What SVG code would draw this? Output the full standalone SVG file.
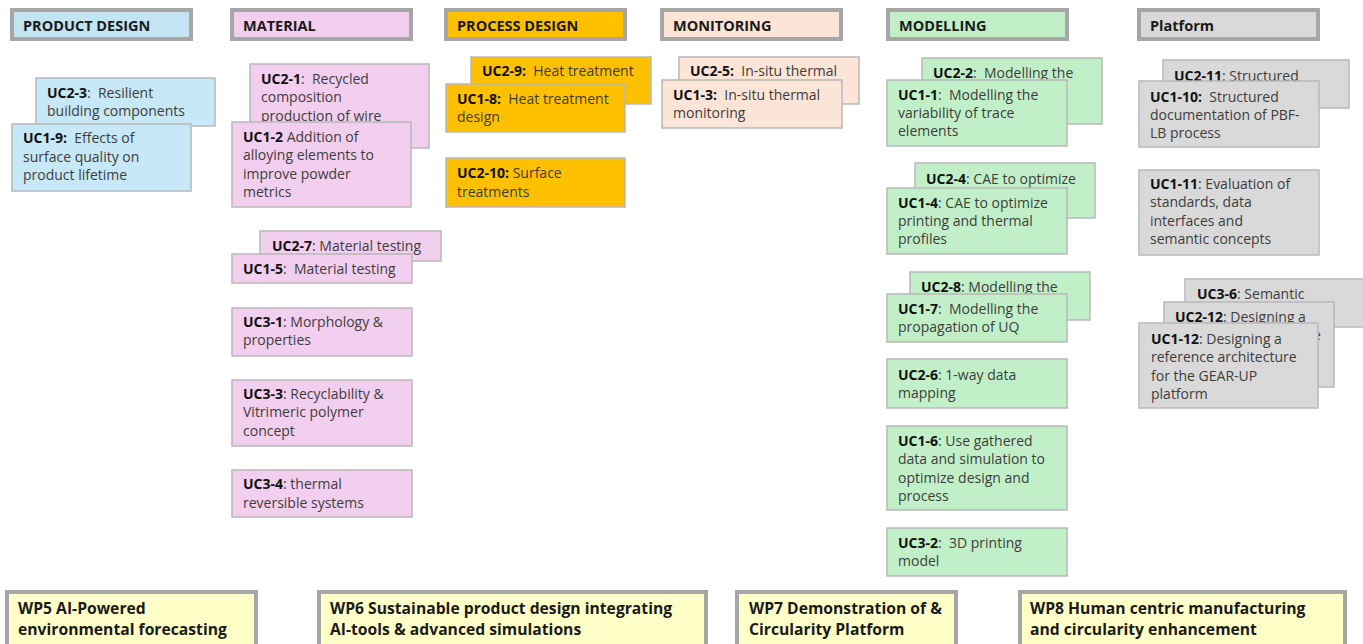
<svg xmlns="http://www.w3.org/2000/svg" width="1363" height="644" viewBox="0 0 1363 644">
<style>
.hdr{stroke:#a6a6a6;stroke-width:4}
.uc{stroke:#b8b8b8;stroke-width:1.5}
.wp{stroke:#a6a6a6;stroke-width:4;fill:#ffffc8}
.blue{fill:#c7e8f6}
.hblue{fill:#c2e4f3}
.pink{fill:#f2cfee}
.orange{fill:#ffc000}
.peach{fill:#fce4d6}
.green{fill:#c1f0c8}
.gray{fill:#d9d9d9}
text{font-family:"Open Sans","Liberation Sans",Arial,sans-serif;white-space:pre}
.ht{font-size:14.5px;font-weight:bold;fill:#1a1a1a}
.t{font-size:14px;fill:#3d3d3d}
.b{font-weight:bold;fill:#111}
.wt{font-size:15.7px;font-weight:bold;fill:#1a1a1a}
</style>
<rect width="1363" height="644" fill="#ffffff"/>

<!-- headers -->
<g id="h-product"><rect class="hdr hblue" x="12" y="10" width="179" height="29"/><text class="ht" x="23" y="31">PRODUCT DESIGN</text></g>
<g id="h-material"><rect class="hdr pink" x="232" y="10" width="179" height="29"/><text class="ht" x="243" y="31">MATERIAL</text></g>
<g id="h-process"><rect class="hdr orange" x="446" y="10" width="179" height="29"/><text class="ht" x="457" y="31">PROCESS DESIGN</text></g>
<g id="h-monitoring"><rect class="hdr peach" x="662" y="10" width="179" height="29"/><text class="ht" x="673" y="31">MONITORING</text></g>
<g id="h-modelling"><rect class="hdr green" x="888" y="10" width="179" height="29"/><text class="ht" x="899" y="31">MODELLING</text></g>
<g id="h-platform"><rect class="hdr gray" x="1139" y="10" width="179" height="29"/><text class="ht" x="1150" y="31">Platform</text></g>

<!-- product design -->
<g id="uc2-3"><rect class="uc blue" x="36" y="78" width="179" height="48"/><text class="t" x="47" y="98"><tspan class="b">UC2-3</tspan>:  Resilient</text><text class="t" x="47" y="116">building components</text></g>
<g id="uc1-9"><rect class="uc blue" x="12" y="124" width="179" height="67"/><text class="t" x="23" y="143"><tspan class="b">UC1-9:</tspan>  Effects of</text><text class="t" x="23" y="161.5">surface quality on</text><text class="t" x="23" y="180">product lifetime</text></g>

<!-- material -->
<g id="uc2-1"><rect class="uc pink" x="250" y="64" width="179" height="84"/><text class="t" x="261" y="84"><tspan class="b">UC2-1</tspan>:  Recycled</text><text class="t" x="261" y="102">composition</text><text class="t" x="261" y="121">production of wire</text></g>
<g id="uc1-2"><rect class="uc pink" x="232" y="122" width="179" height="85"/><text class="t" x="243" y="142"><tspan class="b">UC1-2</tspan> Addition of</text><text class="t" x="243" y="160">alloying elements to</text><text class="t" x="243" y="179">improve powder</text><text class="t" x="243" y="197">metrics</text></g>
<g id="uc2-7"><rect class="uc pink" x="260" y="231" width="181" height="30"/><text class="t" x="272" y="251"><tspan class="b">UC2-7</tspan>: Material testing</text></g>
<g id="uc1-5"><rect class="uc pink" x="232" y="254" width="180" height="29"/><text class="t" x="243" y="274"><tspan class="b">UC1-5</tspan>:  Material testing</text></g>
<g id="uc3-1"><rect class="uc pink" x="232" y="308" width="180" height="48"/><text class="t" x="243" y="327"><tspan class="b">UC3-1</tspan>: Morphology &amp;</text><text class="t" x="243" y="345">properties</text></g>
<g id="uc3-3"><rect class="uc pink" x="232" y="380" width="180" height="66"/><text class="t" x="243" y="399"><tspan class="b">UC3-3</tspan>: Recyclability &amp;</text><text class="t" x="243" y="417">Vitrimeric polymer</text><text class="t" x="243" y="436">concept</text></g>
<g id="uc3-4"><rect class="uc pink" x="232" y="470" width="180" height="47"/><text class="t" x="243" y="489"><tspan class="b">UC3-4</tspan>: thermal</text><text class="t" x="243" y="508">reversible systems</text></g>

<!-- process design -->
<g id="uc2-9"><rect class="uc orange" x="471" y="57" width="180" height="47"/><text class="t" x="482" y="76"><tspan class="b">UC2-9:</tspan>  Heat treatment</text></g>
<g id="uc1-8"><rect class="uc orange" x="446" y="84" width="179" height="48"/><text class="t" x="457" y="104"><tspan class="b">UC1-8:</tspan>  Heat treatment</text><text class="t" x="457" y="122">design</text></g>
<g id="uc2-10"><rect class="uc orange" x="446" y="158" width="179" height="49"/><text class="t" x="457" y="178"><tspan class="b">UC2-10:</tspan> Surface</text><text class="t" x="457" y="197">treatments</text></g>

<!-- monitoring -->
<g id="uc2-5"><rect class="uc peach" x="679" y="57" width="180" height="47"/><text class="t" x="690" y="76"><tspan class="b">UC2-5:</tspan>  In-situ thermal</text></g>
<g id="uc1-3"><rect class="uc peach" x="662" y="80" width="180" height="48"/><text class="t" x="673" y="100"><tspan class="b">UC1-3:</tspan>  In-situ thermal</text><text class="t" x="673" y="118">monitoring</text></g>

<!-- modelling -->
<g id="uc2-2"><rect class="uc green" x="922" y="58" width="180" height="66"/><text class="t" x="933" y="78"><tspan class="b">UC2-2</tspan>:  Modelling the</text></g>
<g id="uc1-1"><rect class="uc green" x="887" y="80" width="180" height="66"/><text class="t" x="898" y="100"><tspan class="b">UC1-1</tspan>:  Modelling the</text><text class="t" x="898" y="117.5">variability of trace</text><text class="t" x="898" y="136">elements</text></g>
<g id="uc2-4"><rect class="uc green" x="915" y="163" width="180" height="55"/><text class="t" x="926" y="184"><tspan class="b">UC2-4</tspan>: CAE to optimize</text></g>
<g id="uc1-4"><rect class="uc green" x="887" y="188" width="180" height="66"/><text class="t" x="898" y="208"><tspan class="b">UC1-4</tspan>: CAE to optimize</text><text class="t" x="898" y="226">printing and thermal</text><text class="t" x="898" y="244">profiles</text></g>
<g id="uc2-8"><rect class="uc green" x="910" y="272" width="180" height="48"/><text class="t" x="921" y="292"><tspan class="b">UC2-8</tspan>: Modelling the</text></g>
<g id="uc1-7"><rect class="uc green" x="887" y="294" width="180" height="48"/><text class="t" x="898" y="314"><tspan class="b">UC1-7</tspan>:  Modelling the</text><text class="t" x="898" y="332">propagation of UQ</text></g>
<g id="uc2-6"><rect class="uc green" x="887" y="359" width="180" height="49"/><text class="t" x="898" y="380"><tspan class="b">UC2-6</tspan>: 1-way data</text><text class="t" x="898" y="398">mapping</text></g>
<g id="uc1-6"><rect class="uc green" x="887" y="426" width="180" height="84"/><text class="t" x="898" y="446"><tspan class="b">UC1-6</tspan>: Use gathered</text><text class="t" x="898" y="464">data and simulation to</text><text class="t" x="898" y="482.5">optimize design and</text><text class="t" x="898" y="501">process</text></g>
<g id="uc3-2"><rect class="uc green" x="887" y="528" width="180" height="48"/><text class="t" x="898" y="548"><tspan class="b">UC3-2</tspan>:  3D printing</text><text class="t" x="898" y="566">model</text></g>

<!-- platform -->
<g id="uc2-11"><rect class="uc gray" x="1163" y="60" width="186" height="48"/><text class="t" x="1174" y="81"><tspan class="b">UC2-11</tspan>: Structured</text></g>
<g id="uc1-10"><rect class="uc gray" x="1139" y="81" width="180" height="66"/><text class="t" x="1150" y="102"><tspan class="b">UC1-10:</tspan>  Structured</text><text class="t" x="1150" y="119.5">documentation of PBF-</text><text class="t" x="1150" y="138">LB process</text></g>
<g id="uc1-11"><rect class="uc gray" x="1139" y="170" width="180" height="85"/><text class="t" x="1150" y="189"><tspan class="b">UC1-11</tspan>: Evaluation of</text><text class="t" x="1150" y="207">standards, data</text><text class="t" x="1150" y="226">interfaces and</text><text class="t" x="1150" y="244">semantic concepts</text></g>
<g id="uc3-6"><rect class="uc gray" x="1185" y="279" width="190" height="48"/><text class="t" x="1197" y="299"><tspan class="b">UC3-6</tspan>: Semantic</text></g>
<g id="uc2-12"><rect class="uc gray" x="1164" y="302" width="170" height="85"/><text class="t" x="1175" y="322"><tspan class="b">UC2-12</tspan>: Designing a</text><text class="t" x="1313" y="340">e</text></g>
<g id="uc1-12"><rect class="uc gray" x="1139" y="323" width="179" height="85"/><text class="t" x="1151" y="344"><tspan class="b">UC1-12</tspan>: Designing a</text><text class="t" x="1151" y="362">reference architecture</text><text class="t" x="1151" y="381">for the GEAR-UP</text><text class="t" x="1151" y="399">platform</text></g>

<!-- work packages -->
<g id="wp5"><rect class="wp" x="7" y="592" width="249" height="60"/><text class="wt" x="18" y="614">WP5 AI-Powered</text><text class="wt" x="18" y="635">environmental forecasting</text></g>
<g id="wp6"><rect class="wp" x="319" y="592" width="387" height="60"/><text class="wt" x="330" y="614">WP6 Sustainable product design integrating</text><text class="wt" x="330" y="635">AI-tools &amp; advanced simulations</text></g>
<g id="wp7"><rect class="wp" x="737" y="592" width="219" height="60"/><text class="wt" x="749" y="614">WP7 Demonstration of &amp;</text><text class="wt" x="749" y="635">Circularity Platform</text></g>
<g id="wp8"><rect class="wp" x="1020" y="592" width="325" height="60"/><text class="wt" x="1030" y="614">WP8 Human centric manufacturing</text><text class="wt" x="1030" y="635">and circularity enhancement</text></g>

<g id="connectors"/>
</svg>
